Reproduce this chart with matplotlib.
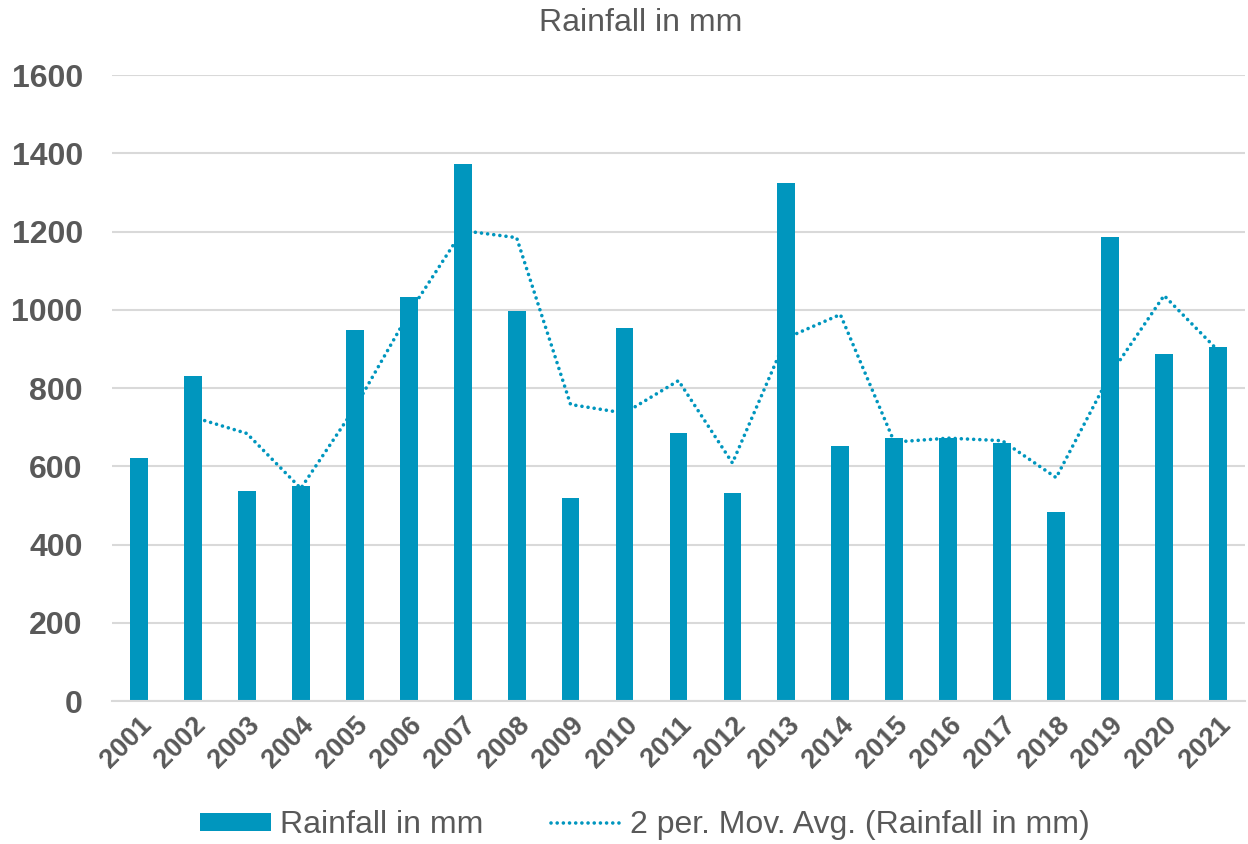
import matplotlib
matplotlib.use("Agg")
import matplotlib.pyplot as plt
import numpy as np

# yearly rainfall totals
years = [str(y) for y in range(2001, 2022)]
rainfall = [621, 831, 537, 550, 948, 1033, 1372, 997, 519, 953, 685,
            532, 1324, 652, 672, 672, 659, 483, 1186, 887, 905]

# 2-period moving average, starts from the second year
rain = np.array(rainfall, dtype=float)
mov_avg = (rain[1:] + rain[:-1]) / 2

bar_col = '#0096BE'
text_col = '#595959'
grid_col = '#D9D9D9'

plt.rcParams['font.family'] = ['Liberation Sans', 'DejaVu Sans']

fig = plt.figure(figsize=(12.48, 8.44), dpi=100)
ax = fig.add_axes([0.0897, 0.1694, 0.9079, 0.7416])

x = np.arange(len(years))
bars = ax.bar(x, rainfall, width=0.33, color=bar_col, zorder=2)
line, = ax.plot(x[1:], mov_avg, color=bar_col, lw=2.6, linestyle=(0, (0.01, 1.7)),
                dash_capstyle='round', zorder=3)

ax.set_xlim(-0.5, len(years) - 0.5)
ax.set_ylim(0, 1600)
ax.set_yticks(range(0, 1601, 200))
ax.set_xticks(x)
ax.set_xticklabels(years, rotation=45, ha='right', rotation_mode='anchor')

ax.grid(axis='y', color=grid_col, lw=1.5, zorder=0)
ax.set_axisbelow(True)
for s in ['left', 'right', 'top']:
    ax.spines[s].set_visible(False)
ax.spines['bottom'].set_color(grid_col)
ax.spines['bottom'].set_linewidth(1.5)

ax.tick_params(axis='y', length=0, pad=21, labelsize=23, labelcolor=text_col)
ax.tick_params(axis='x', length=0, pad=8, labelsize=19.5, labelcolor=text_col)
for lab in ax.get_xticklabels() + ax.get_yticklabels():
    lab.set_fontweight('bold')

fig.text(0.513, 0.973, 'Rainfall in mm', ha='center', va='center',
         fontsize=23, color=text_col)

fig.legend([bars, line], ['Rainfall in mm', '2 per. Mov. Avg. (Rainfall in mm)'],
           loc='center', bbox_to_anchor=(0.517, 0.0225), ncol=2, frameon=False,
           fontsize=23, labelcolor=text_col, handlelength=2.2, handleheight=0.5,
           handletextpad=0.3, columnspacing=2.1)

fig.savefig('out.png', dpi=100)
